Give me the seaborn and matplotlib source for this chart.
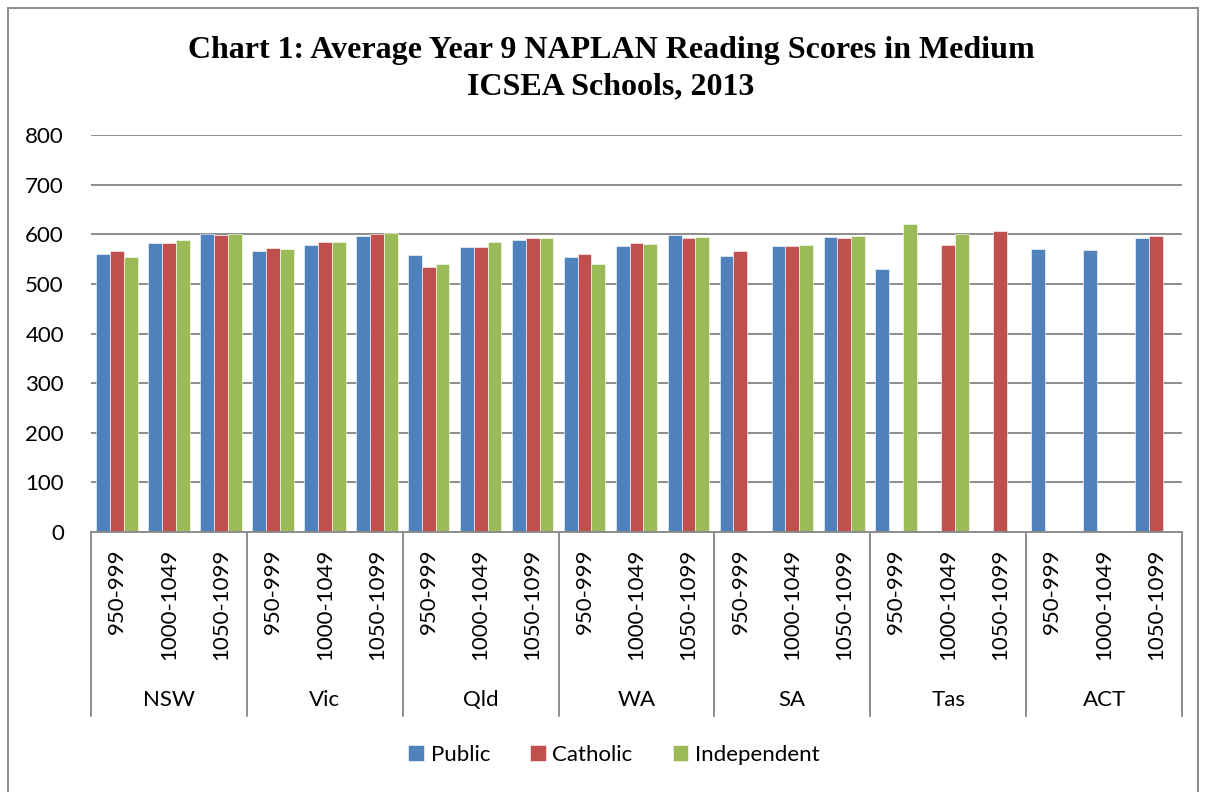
import matplotlib
matplotlib.use("Agg")
import matplotlib.pyplot as plt
import matplotlib.transforms as mtransforms
from matplotlib.patches import Rectangle
import seaborn as sns
import pandas as pd

states = ["NSW", "Vic", "Qld", "WA", "SA", "Tas", "ACT"]
bands = ["950-999", "1000-1049", "1050-1099"]
sectors = ["Public", "Catholic", "Independent"]
colors = ["#4F81BD", "#C0504D", "#9BBB59"]

# one value per state x band, None where there is no bar
public = [560, 582, 601, 566, 578, 597, 558, 574, 588, 555, 576, 599,
          556, 576, 594, 529, None, None, 571, 569, 593]
catholic = [567, 582, 599, 572, 584, 601, 533, 574, 593, 561, 582, 593,
            567, 576, 593, None, 578, 607, None, None, 596]
independent = [554, 588, 600, 570, 584, 602, 541, 584, 592, 541, 580, 594,
               None, 578, 597, 620, 601, None, None, None, None]

slots = [f"{s} {b}" for s in states for b in bands]
rows = []
for sector, vals in zip(sectors, [public, catholic, independent]):
    for slot, v in zip(slots, vals):
        if v is not None:
            rows.append({"slot": slot, "sector": sector, "score": v})
df = pd.DataFrame(rows)

sns.set_style("white")
plt.rcParams["font.family"] = ["Lato", "DejaVu Sans"]
plt.rcParams["text.color"] = "black"
plt.rcParams["xtick.color"] = "black"
plt.rcParams["ytick.color"] = "black"

W, H = 1206, 792
fig = plt.figure(figsize=(W / 100, H / 100), dpi=100)
left, right, top, bottom = 91, 1182, 135, 532
ax = fig.add_axes([left / W, 1 - bottom / H, (right - left) / W, (bottom - top) / H])

sns.barplot(data=df, x="slot", y="score", hue="sector", order=slots,
            hue_order=sectors, palette=colors, width=0.8, gap=0,
            saturation=1, ax=ax, edgecolor="white", linewidth=0.4)

ax.set_ylim(0, 800)
ax.set_xlim(-0.5, len(slots) - 0.5)
ax.set_yticks(range(0, 801, 100))
ax.yaxis.grid(True, color="#8c8c8c", linewidth=1.4)
ax.set_axisbelow(True)
for sp in ["left", "right", "top"]:
    ax.spines[sp].set_visible(False)
ax.spines["bottom"].set_color("#8c8c8c")
ax.spines["bottom"].set_linewidth(1.4)
ax.set_xlabel("")
ax.set_ylabel("")
ax.tick_params(axis="y", direction="out", length=4, color="#8c8c8c",
               width=1.4, pad=15.5, labelsize=16, labelcolor="black")
ax.set_xticks(range(len(slots)))
ax.set_xticklabels(bands * len(states), rotation=90, va="top", ha="center")
ax.tick_params(axis="x", length=0, pad=12, labelsize=16, labelcolor="black")

# multi-level category axis: separators and state names
trans = mtransforms.blended_transform_factory(ax.transData, ax.transAxes)
ph = bottom - top
sep_bottom = -(716 - bottom) / ph
for i in range(len(states) + 1):
    xpos = i * len(bands) - 0.5
    ax.plot([xpos, xpos], [0, sep_bottom], transform=trans, color="#8c8c8c",
            linewidth=1.4, clip_on=False)
for i, s in enumerate(states):
    ax.text(i * len(bands) + 1, -(700 - bottom) / ph, s, transform=trans,
            ha="center", va="center", fontsize=16)

handles, labels = ax.get_legend_handles_labels()
ax.legend_.remove()
fig.legend(handles, labels, loc="center", bbox_to_anchor=(614 / W, 1 - 755 / H),
           ncol=3, frameon=False, fontsize=16, handlelength=0.7,
           handleheight=0.7, handletextpad=0.3, columnspacing=1.8)

fig.text(611 / W, 1 - 69 / H,
         "Chart 1: Average Year 9 NAPLAN Reading Scores in Medium\nICSEA Schools, 2013",
         ha="center", va="center", fontsize=23, fontweight="bold",
         family="Liberation Serif", linespacing=1.32)

fig.patches.append(Rectangle((8 / W, -0.05), (1198 - 8) / W, 1.05 - 8 / H,
                             transform=fig.transFigure, fill=False,
                             edgecolor="#8c8c8c", linewidth=1.4))

fig.savefig("out.png", dpi=100)
